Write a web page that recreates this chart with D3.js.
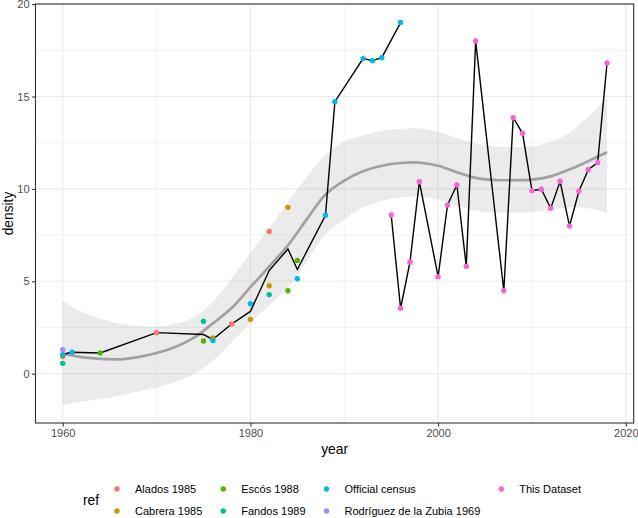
<!DOCTYPE html>
<html><head><meta charset="utf-8">
<script src="https://cdn.jsdelivr.net/npm/d3@7/dist/d3.min.js"></script>
<style>
body{margin:0;background:#fff}
svg{display:block;font-family:"Liberation Sans",Arial,Helvetica,sans-serif}
</style>
</head><body>
<svg id="chart" width="638" height="518"></svg>
<script>
// ---------- data ----------
const refs = ["Alados 1985","Cabrera 1985","Escós 1988","Fandos 1989","Official census","Rodríguez de la Zubia 1969","This Dataset"];
const refColors = ["#F8766D","#C49A00","#53B400","#00C094","#00B6EB","#A58AFF","#FB61D7"];

const aladosYears = [1970,1978,1982];
const aladosDensity = [2.22,2.69,7.70];
const cabreraYears = [1960,1976,1980,1982,1984];
const cabreraDensity = [0.93,1.93,2.94,4.76,9.00];
const escosYears = [1964,1975,1984,1985];
const escosDensity = [1.12,1.77,4.49,6.13];
const fandosYears = [1960,1975,1982];
const fandosDensity = [0.56,2.84,4.28];
const censusYears = [1960,1961,1976,1980,1985,1988,1989,1992,1993,1994,1996];
const censusDensity = [1.03,1.16,1.79,3.79,5.14,8.57,14.72,17.05,16.94,17.10,19.00];
const zubiaYears = [1960];
const zubiaDensity = [1.30];
const datasetYears = [1995,1996,1997,1998,2000,2001,2002,2003,2004,2007,2008,2009,2010,2011,2012,2013,2014,2015,2016,2017,2018];
const datasetDensity = [8.59,3.54,6.03,10.39,5.25,9.13,10.21,5.81,18.00,4.49,13.85,13.01,9.90,9.98,8.95,10.41,7.99,9.87,11.04,11.42,16.81];

// mean line through the historical references
const meanYears = [1960,1961,1964,1970,1975,1976,1978,1980,1982,1984,1985,1988,1989,1992,1993,1994,1996];
const meanDensity = [1.05,1.16,1.12,2.22,2.12,1.86,2.69,3.37,5.58,6.75,5.64,8.57,14.72,17.05,16.94,17.10,19.00];

// loess smooth with confidence band
const smoothYears = [1960,1962,1964,1966,1968,1970,1972,1974,1976,1978,1980,1982,1984,1986,1988,1990,1992,1994,1996,1998,2000,2002,2004,2006,2008,2010,2012,2014,2016,2018];
const smoothFit   = [1.08,0.90,0.80,0.78,0.90,1.12,1.45,1.95,2.72,3.55,4.68,5.80,6.95,8.35,9.70,10.45,10.95,11.25,11.40,11.42,11.25,10.90,10.60,10.48,10.47,10.50,10.68,11.05,11.50,11.98];
const smoothUpper = [3.95,3.35,2.98,2.72,2.58,2.55,2.70,3.05,3.90,5.15,6.55,7.85,9.30,10.65,11.85,12.55,12.90,13.15,13.25,13.27,13.08,12.75,12.45,12.30,12.27,12.30,12.55,13.05,13.90,14.90];
const smoothLower = [-1.68,-1.50,-1.38,-1.20,-0.98,-0.75,-0.45,0.00,0.70,1.70,2.75,3.70,4.65,6.05,7.55,8.35,9.00,9.35,9.55,9.57,9.42,9.10,8.82,8.72,8.72,8.75,8.85,9.00,8.95,8.70];

const xTicks = [1960,1980,2000,2020];
const xMinor = [1970,1990,2010];
const yTicks = [0,5,10,15,20];
const yMinor = [-2.5,2.5,7.5,12.5,17.5];

const seriesYears = [aladosYears,cabreraYears,escosYears,fandosYears,censusYears,zubiaYears,datasetYears];
const seriesDensity = [aladosDensity,cabreraDensity,escosDensity,fandosDensity,censusDensity,zubiaDensity,datasetDensity];

// ---------- layout ----------
const svg = d3.select("#chart");
const P = {left:35.5, right:633.7, top:4, bottom:423};
const x = d3.scaleLinear().domain([1957.1, 2020.84]).range([P.left, P.right]);
const y = d3.scaleLinear().domain([-2.668, 20.005]).range([P.bottom, P.top]);
const color = d3.scaleOrdinal().domain(refs).range(refColors);

// panel background + grid
const grid = svg.append("g");
grid.selectAll(".xm").data(xMinor).join("line")
  .attr("x1", d=>x(d)).attr("x2", d=>x(d)).attr("y1", P.top).attr("y2", P.bottom)
  .attr("stroke","#ebebeb").attr("stroke-width",0.6);
grid.selectAll(".ym").data(yMinor).join("line")
  .attr("y1", d=>y(d)).attr("y2", d=>y(d)).attr("x1", P.left).attr("x2", P.right)
  .attr("stroke","#ebebeb").attr("stroke-width",0.6);
grid.selectAll(".xM").data(xTicks).join("line")
  .attr("x1", d=>x(d)).attr("x2", d=>x(d)).attr("y1", P.top).attr("y2", P.bottom)
  .attr("stroke","#ebebeb").attr("stroke-width",1.1);
grid.selectAll(".yM").data(yTicks).join("line")
  .attr("y1", d=>y(d)).attr("y2", d=>y(d)).attr("x1", P.left).attr("x2", P.right)
  .attr("stroke","#ebebeb").attr("stroke-width",1.1);

// smooth ribbon + fit
const smooth = smoothYears.map((yr,i)=>({yr, fit:smoothFit[i], lo:smoothLower[i], hi:smoothUpper[i]}));
svg.append("path").datum(smooth)
  .attr("d", d3.area().x(d=>x(d.yr)).y0(d=>y(d.lo)).y1(d=>y(d.hi)).curve(d3.curveCatmullRom))
  .attr("fill","#999999").attr("fill-opacity",0.2);
svg.append("path").datum(smooth)
  .attr("d", d3.line().x(d=>x(d.yr)).y(d=>y(d.fit)).curve(d3.curveCatmullRom))
  .attr("fill","none").attr("stroke","#a1a1a1").attr("stroke-width",2.7);

// black lines
const lineGen = d3.line().x(d=>x(d[0])).y(d=>y(d[1]));
svg.append("path").datum(meanYears.map((yr,i)=>[yr, meanDensity[i]]))
  .attr("d", lineGen).attr("fill","none").attr("stroke","#000").attr("stroke-width",1.4);
svg.append("path").datum(datasetYears.map((yr,i)=>[yr, datasetDensity[i]]))
  .attr("d", lineGen).attr("fill","none").attr("stroke","#000").attr("stroke-width",1.4);

// points
const pts = [];
refs.forEach((r,k)=>seriesYears[k].forEach((yr,i)=>pts.push({ref:r, yr, v:seriesDensity[k][i]})));
svg.append("g").selectAll("circle").data(pts).join("circle")
  .attr("cx", d=>x(d.yr)).attr("cy", d=>y(d.v)).attr("r",2.7)
  .attr("fill", d=>color(d.ref));

// panel border
svg.append("rect").attr("x",P.left).attr("y",P.top)
  .attr("width",P.right-P.left).attr("height",P.bottom-P.top)
  .attr("fill","none").attr("stroke","#333333").attr("stroke-width",1.1);

// axes
const xAxis = svg.append("g").attr("transform",`translate(0,${P.bottom})`)
  .call(d3.axisBottom(x).tickValues(xTicks).tickFormat(d3.format("d")).tickSize(3.4).tickPadding(2.5));
const yAxis = svg.append("g").attr("transform",`translate(${P.left},0)`)
  .call(d3.axisLeft(y).tickValues(yTicks).tickSize(3.4).tickPadding(2.5));
[xAxis,yAxis].forEach(a=>{
  a.select(".domain").remove();
  a.selectAll(".tick line").attr("stroke","#333333").attr("stroke-width",1.1);
  a.selectAll(".tick text").attr("fill","#4d4d4d").style("font-size","11px")
   .style("font-family",'"Liberation Sans",Arial,Helvetica,sans-serif');
});

// axis titles
svg.append("text").attr("x",(P.left+P.right)/2).attr("y",453.5).attr("text-anchor","middle")
  .style("font-size","13.75px").text("year");
svg.append("text").attr("transform",`translate(12.5,${(P.top+P.bottom)/2}) rotate(-90)`)
  .attr("text-anchor","middle").style("font-size","13.75px").text("density");

// legend (2 rows, filled by column)
const leg = svg.append("g");
leg.append("text").attr("x",83).attr("y",504.5).style("font-size","13.75px").text("ref");
const rowY = [489, 511];
let keyX = 117;
const nCols = Math.ceil(refs.length/2);
for (let c=0;c<nCols;c++){
  let maxW = 0;
  for (let r=0;r<2;r++){
    const idx = c*2+r;
    if (idx>=refs.length) continue;
    leg.append("circle").attr("cx",keyX).attr("cy",rowY[r]).attr("r",2.7).attr("fill",refColors[idx]);
    const t = leg.append("text").attr("x",keyX+18).attr("y",rowY[r]+3.9)
      .style("font-size","11px").attr("fill","#000").text(refs[idx]);
    maxW = Math.max(maxW, t.node().getComputedTextLength());
  }
  keyX = keyX + 18 + maxW + 21;
}
</script>
</body></html>
